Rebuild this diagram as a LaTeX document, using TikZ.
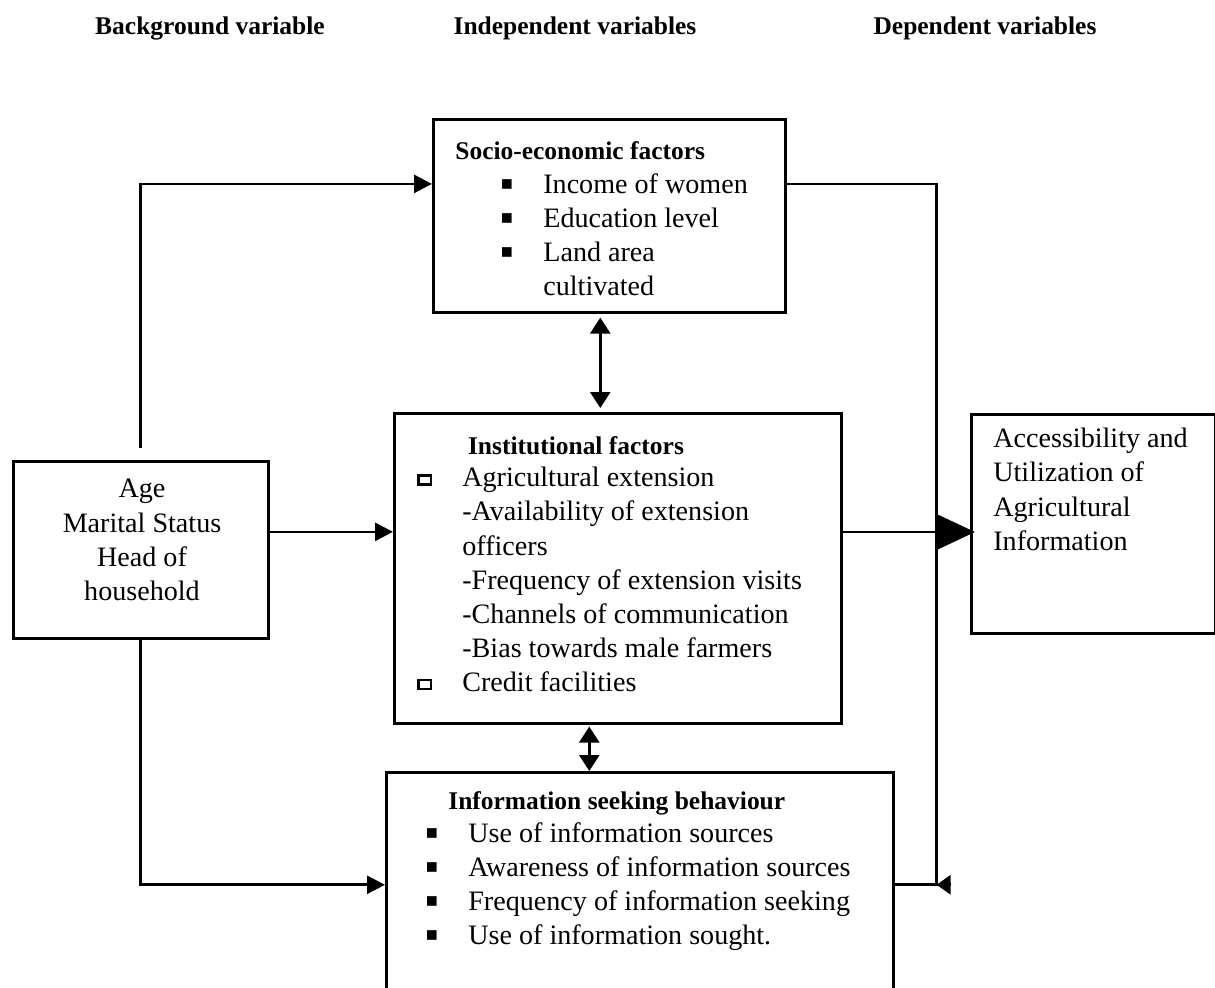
\documentclass[tikz,border=0pt]{standalone}
\usepackage{fontspec}
\setmainfont{Liberation Serif}
\newfontfamily\symfont{DejaVu Sans}
\usetikzlibrary{arrows.meta,calc}

\newcommand{\txtfont}{\fontsize{16}{19.4}\selectfont}
\newcommand{\hdfont}{\fontsize{14.5}{17}\selectfont\bfseries}
\newcommand{\fbul}{\makebox[0.86cm][l]{\raisebox{2pt}{\fontsize{11}{11}\symfont ▪}}}
\newcommand{\obul}{\makebox[0.9cm][l]{\raisebox{2pt}{\setlength{\fboxrule}{1.4pt}\setlength{\fboxsep}{0pt}\fbox{\rule{0pt}{3.8pt}\hspace{5.6pt}}}}}
\newcommand{\ind}{\hspace*{0.9cm}}

\begin{document}
\begin{tikzpicture}[x=0.02cm, y=-0.02cm]
    % Styles
    \tikzset{
        box/.style={rectangle, draw, line width=1.5pt, anchor=north west, inner sep=0pt},
        txt/.style={anchor=north west, align=left, inner sep=0pt, font=\txtfont},
        head/.style={anchor=north west, inner sep=0pt, font=\hdfont},
        link/.style={line width=1.5pt},
        arr/.style={link, -{Triangle[length=0.36cm, width=0.36cm]}},
        twoway/.style={link, {Triangle[length=0.32cm, width=0.4cm]}-{Triangle[length=0.32cm, width=0.4cm]}}
    }
    \useasboundingbox (0,0) rectangle (1215,988);

    % Column titles
    \node[font=\hdfont] (tbg) at (210,28) {Background variable};
    \node[font=\hdfont] (tind) at (575,28) {Independent variables};
    \node[font=\hdfont] (tdep) at (985,28) {Dependent variables};

    % Boxes
    \node[box, minimum width=7.04cm, minimum height=3.86cm] (soc) at (432,118) {};
    \node[box, minimum width=8.94cm, minimum height=6.2cm] (inst) at (393,412) {};
    \node[box, minimum width=10.14cm, minimum height=4.5cm] (info) at (385,771) {};
    \node[box, minimum width=5.1cm, minimum height=3.54cm] (age) at (12,460) {};
    \node[box, minimum width=4.88cm, minimum height=4.38cm] (acc) at (970,413) {};

    % Socio-economic factors
    \node[head] (socT) at (455,141) {Socio-economic factors};
    \node[txt] (socL) at (500,173)
        {\fbul Income of women\\ \fbul Education level\\ \fbul Land area\\ \hspace*{0.86cm}cultivated};

    % Institutional factors
    \node[head, anchor=north] (instT) at (576,436) {Institutional factors};
    \node[txt] (instL) at (417,467)
        {\obul Agricultural extension\\ \ind -Availability of extension\\ \ind officers\\
         \ind -Frequency of extension visits\\ \ind -Channels of communication\\
         \ind -Bias towards male farmers\\ \obul Credit facilities};

    % Information seeking behaviour
    \node[head] (infoT) at (448,791) {Information seeking behaviour};
    \node[txt] (infoL) at (425,822)
        {\fbul Use of information sources\\ \fbul Awareness of information sources\\
         \fbul Frequency of information seeking\\ \fbul Use of information sought.};

    % Background and dependent variables
    \node[txt, anchor=north, align=center] (ageL) at (142,479) {Age\\Marital Status\\Head of\\household};
    \node[txt] (accL) at (993,428) {Accessibility and\\Utilization of\\Agricultural\\Information};

    % Connections
    \coordinate (socin) at ($(soc.north west)!0.337!(soc.south west)$);
    \coordinate (socout) at ($(soc.north east)!0.337!(soc.south east)$);
    \coordinate (agemid) at ($(age.north east)!0.4!(age.south east)$);
    \coordinate (instout) at ($(inst.north east)!0.384!(inst.south east)$);
    \coordinate (join) at ($(info.east)+(42,0)$);
    \coordinate (jtip) at ($(info.east)+(55,0)$);
    \draw[arr] ([yshift=0.24cm]age.north) |- (socin);
    \draw[arr] (agemid) -- (agemid -| inst.west);
    \draw[arr] (age.south) |- (info.west);
    \draw[link] (socout) -| (join) -- (info.east);
    \draw[link, -{Triangle[length=0.28cm, width=0.38cm]}] (jtip) -- (join);
    \draw[link, -{Triangle[length=0.76cm, width=0.7cm]}] (instout) -- ([xshift=0.1cm]instout -| acc.west);

    % Two-way links
    \coordinate (s1) at ([xshift=-0.18cm]soc.south);
    \coordinate (s2) at ([xshift=-0.57cm]inst.south);
    \draw[twoway, shorten <=0.08cm, shorten >=0.08cm] (s1) -- (s1 |- inst.north);
    \draw[twoway, shorten <=0.04cm] (s2) -- (s2 |- info.north);
\end{tikzpicture}
\end{document}
